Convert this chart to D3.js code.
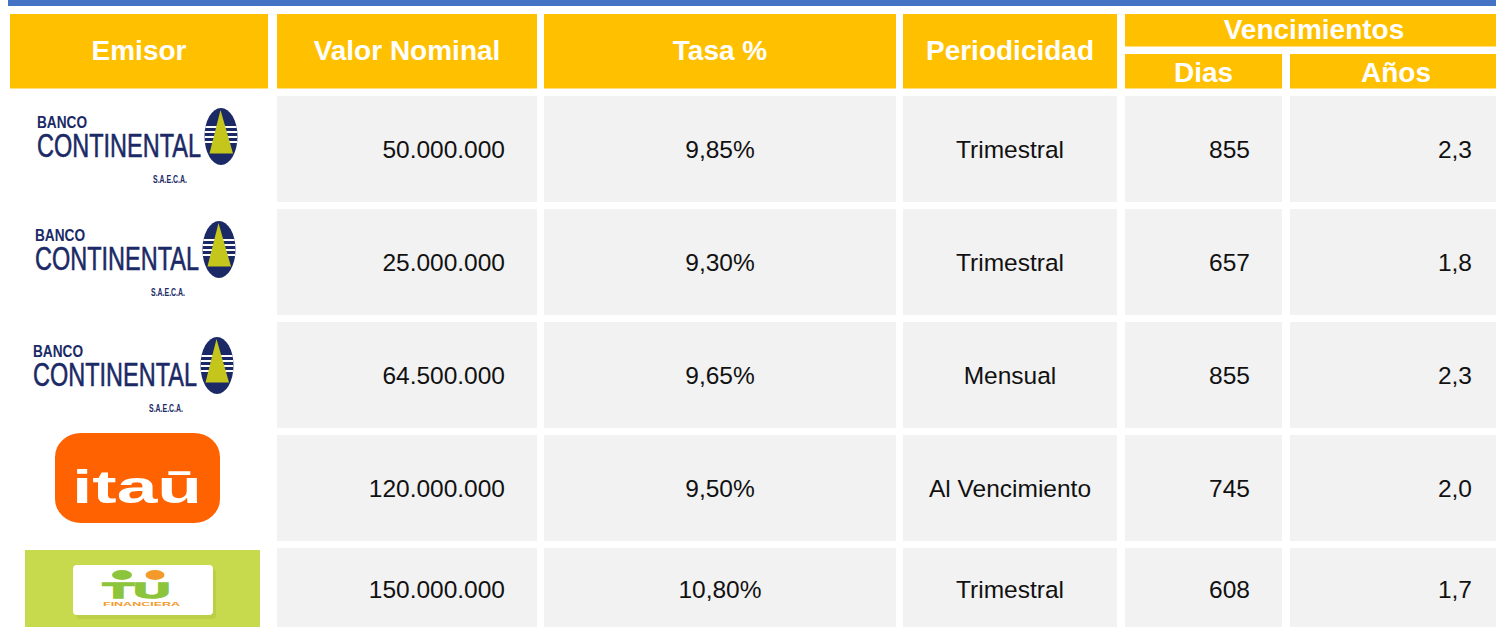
<!DOCTYPE html>
<html><head><meta charset="utf-8">
<script src="https://cdn.jsdelivr.net/npm/d3@7/dist/d3.min.js"></script>
<style>body{margin:0;background:#fff;}svg{display:block;}</style>
</head><body>
<script>
// ---- data ----
const emisores = ["Banco Continental", "Banco Continental", "Banco Continental", "Itaú", "Tu Financiera"];
const valorNominal = [50000000, 25000000, 64500000, 120000000, 150000000];
const tasa = [9.85, 9.30, 9.65, 9.50, 10.80];
const periodicidad = ["Trimestral", "Trimestral", "Mensual", "Al Vencimiento", "Trimestral"];
const dias = [855, 657, 855, 745, 608];
const anos = [2.3, 1.8, 2.3, 2.0, 1.7];
const headers = ["Emisor", "Valor Nominal", "Tasa %", "Periodicidad"];
const groupHeader = "Vencimientos";
const subHeaders = ["Dias", "Años"];

// ---- layout ----
const W = 1496, H = 627;
const colEdges = [[10, 268], [277, 537], [544, 896], [903, 1117], [1125, 1282], [1290, 1502]];
const rowHeights = [106, 106, 106, 106, 86];
const rowGap = 7, rowStart = 96;
const FONT = "'Liberation Sans', Arial, Helvetica, sans-serif";
const NAVY = "#1b2a66";

const loc = d3.formatLocale({decimal: ",", thousands: ".", grouping: [3], currency: ["", ""]});
const fInt = loc.format(",.0f");
const fPct = v => loc.format(".2f")(v) + "%";
const f1 = loc.format(".1f");

const svg = d3.select("body").append("svg").attr("width", W).attr("height", H)
  .style("font-family", FONT);

// top blue bar
svg.append("rect").attr("x", 8).attr("y", 0).attr("width", W - 8).attr("height", 6).attr("fill", "#4472C4");

// header
const YEL = "#FFC000";
const HF = 28;
const hdr = svg.append("g");
colEdges.slice(0, 4).forEach((c, i) => {
  hdr.append("rect").attr("x", c[0]).attr("y", 14).attr("width", c[1] - c[0]).attr("height", 74.5).attr("fill", YEL);
  hdr.append("text").attr("x", (c[0] + c[1]) / 2).attr("y", 50.5).attr("dy", "0.35em")
    .attr("text-anchor", "middle").attr("fill", "#fff").attr("font-weight", "bold").attr("font-size", HF)
    .text(headers[i]);
});
hdr.append("rect").attr("x", 1125).attr("y", 14).attr("width", W - 1125).attr("height", 32.5).attr("fill", YEL);
hdr.append("text").attr("x", 1314).attr("y", 29.5).attr("dy", "0.35em").attr("text-anchor", "middle")
  .attr("fill", "#fff").attr("font-weight", "bold").attr("font-size", HF).text(groupHeader);
colEdges.slice(4).forEach((c, i) => {
  hdr.append("rect").attr("x", c[0]).attr("y", 54).attr("width", Math.min(c[1], W) - c[0]).attr("height", 34.5).attr("fill", YEL);
  hdr.append("text").attr("x", (c[0] + c[1]) / 2).attr("y", 72).attr("dy", "0.35em").attr("text-anchor", "middle")
    .attr("fill", "#fff").attr("font-weight", "bold").attr("font-size", HF).text(subHeaders[i]);
});

// rows
const rowTops = [];
rowHeights.reduce((acc, h) => { rowTops.push(acc); return acc + h + rowGap; }, rowStart);
const y = i => rowTops[i];
const yc = i => rowTops[i] + rowHeights[i] / 2;

const rows = svg.append("g").selectAll("g").data(emisores).join("g");
colEdges.slice(1).forEach(c => {
  rows.append("rect").attr("x", c[0]).attr("y", (d, i) => y(i)).attr("width", Math.min(c[1], W) - c[0])
    .attr("height", (d, i) => rowHeights[i]).attr("fill", "#F2F2F2");
});
const txt = (xp, anchor, fn) => rows.append("text").attr("x", xp).attr("y", (d, i) => i === 4 ? yc(i) - 1.5 : yc(i))
  .attr("dy", "0.35em").attr("text-anchor", anchor).attr("font-size", 24.5).attr("fill", "#111").text(fn);
txt(505, "end", (d, i) => fInt(valorNominal[i]));
txt(720, "middle", (d, i) => fPct(tasa[i]));
txt(1010, "middle", (d, i) => periodicidad[i]);
txt(1250, "end", (d, i) => dias[i]);
txt(1472, "end", (d, i) => f1(anos[i]));

// ---- logos ----
function continental(g, ox, oy) {
  const l = g.append("g").attr("transform", `translate(${ox},${oy})`);
  l.append("text").attr("x", 37).attr("y", 32).attr("font-size", 16).attr("font-weight", "bold").attr("fill", NAVY)
    .attr("textLength", 50).attr("lengthAdjust", "spacingAndGlyphs").text("BANCO");
  l.append("text").attr("x", 37).attr("y", 61).attr("font-size", 34).attr("fill", NAVY)
    .attr("stroke", NAVY).attr("stroke-width", 0.6)
    .attr("textLength", 164).attr("lengthAdjust", "spacingAndGlyphs").text("CONTINENTAL");
  l.append("text").attr("x", 153).attr("y", 87).attr("font-size", 11).attr("font-weight", "bold").attr("fill", NAVY)
    .attr("textLength", 34).attr("lengthAdjust", "spacingAndGlyphs").text("S.A.E.C.A.");
  const cx = 221, cy = 40.5, rx = 16.5, ry = 28.5;
  const cid = "clip" + Math.round(oy);
  l.append("clipPath").attr("id", cid).append("ellipse").attr("cx", cx).attr("cy", cy).attr("rx", rx).attr("ry", ry);
  l.append("ellipse").attr("cx", cx).attr("cy", cy).attr("rx", rx).attr("ry", ry).attr("fill", NAVY);
  [30, 35, 40, 45].forEach(sy => {
    l.append("rect").attr("x", cx - rx).attr("y", sy).attr("width", 2 * rx).attr("height", 2)
      .attr("fill", "#fff").attr("clip-path", `url(#${cid})`);
  });
  l.append("path").attr("d", `M${cx - 0.5},${cy - ry + 2} L${cx + 12},${cy + 17} L${cx - 11.5},${cy + 17} Z`)
    .attr("fill", "#c4c61c");
}
const lg = svg.append("g");
continental(lg, 0, y(0));
continental(lg, -2, y(1));
continental(lg, -4, y(2) + 3);

// itau
const it = lg.append("g");
it.append("rect").attr("x", 55).attr("y", y(3) - 2).attr("width", 165).attr("height", 90).attr("rx", 26).attr("ry", 24)
  .attr("fill", "#FF6200");
it.append("text").attr("x", 72).attr("y", y(3) + 68).attr("font-size", 46).attr("font-weight", "bold").attr("fill", "#fff")
  .attr("textLength", 130).attr("lengthAdjust", "spacingAndGlyphs").text("itaū");

// tu financiera
const tu = lg.append("g");
const t0 = y(4);
tu.append("rect").attr("x", 25).attr("y", t0 + 2).attr("width", 235).attr("height", H - t0 - 2).attr("fill", "#c7da4e");
tu.append("rect").attr("x", 76).attr("y", t0 + 21).attr("width", 140).attr("height", 50).attr("rx", 4).attr("fill", "#b2c43e").attr("opacity", 0.5);
tu.append("rect").attr("x", 73).attr("y", t0 + 17).attr("width", 140).attr("height", 50).attr("rx", 4).attr("fill", "#fff");
tu.append("ellipse").attr("cx", 122).attr("cy", t0 + 27).attr("rx", 10).attr("ry", 5).attr("fill", "#8cc43c");
tu.append("ellipse").attr("cx", 155).attr("cy", t0 + 27).attr("rx", 9.5).attr("ry", 5).attr("fill", "#f39a2b");
tu.append("text").attr("x", 103).attr("y", t0 + 50).attr("font-size", 22).attr("font-weight", "bold").attr("fill", "#8cc43c")
  .attr("stroke", "#8cc43c").attr("stroke-width", 1.5)
  .attr("textLength", 67).attr("lengthAdjust", "spacingAndGlyphs").text("TU");
tu.append("text").attr("x", 103).attr("y", t0 + 58).attr("font-size", 6).attr("font-weight", "bold").attr("fill", "#f39a2b")
  .attr("textLength", 77).attr("lengthAdjust", "spacingAndGlyphs").text("FINANCIERA");
</script>
</body></html>
